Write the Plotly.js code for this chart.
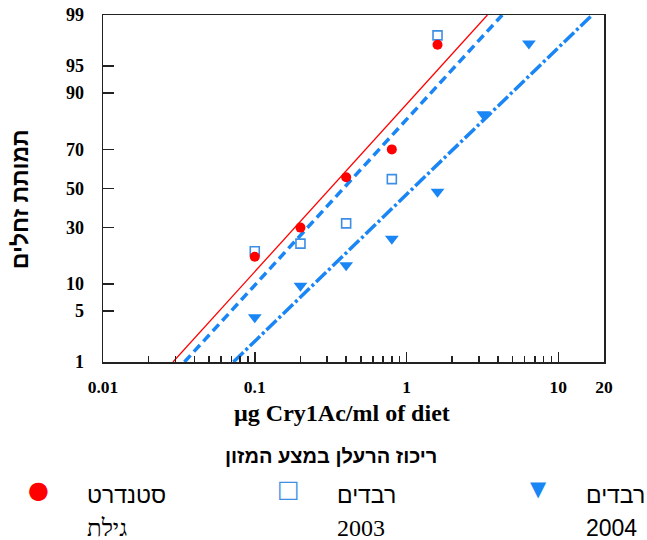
<!DOCTYPE html>
<html>
<head>
<meta charset="utf-8">
<script src="https://cdn.plot.ly/plotly-3.0.1.min.js"></script>
<style>html,body{margin:0;padding:0;background:#fff;}#chart{width:647px;height:540px;}</style>
</head>
<body>
<div id="chart"></div>
<script>
// ---- data (concentration µg/ml, mortality %) ----
const conc = [0.1, 0.2, 0.4, 0.8, 1.6];
const concB = [0.1, 0.2, 0.4, 0.8, 1.6, 3.2, 6.4];
const mortGilat = [18, 30, 56, 70, 97.3];
const mort2003 = [20, 23, 32, 55, 98];
const mort2004 = [4.2, 9.6, 15.2, 25, 48.3, 84, 97.4];
// fitted probit lines: end points (concentration, mortality %)
const fitGilatX = [0.0289, 3.41];
const fit2003X = [0.0344, 4.27];
const fit2004X = [0.0723, 16.7];
const fitY = [1, 99];
// axis tick labels
const yTickPct = [1, 5, 10, 30, 50, 70, 90, 95, 99];
const xTickVals = [0.01, 0.1, 1, 10, 20];
const xTickText = ['0.01', '0.1', '1', '10', '20'];
const xMinor = [0.02,0.03,0.04,0.05,0.06,0.07,0.08,0.09,0.2,0.3,0.4,0.5,0.6,0.7,0.8,0.9,2,3,4,5,6,7,8,9];
const legendNames = [['סטנדרט','גילת'], ['רבדים','2003'], ['רבדים','2004']];

// probit scale transform (inverse normal CDF, Acklam)
function probit(pct){
  const p = pct/100;
  const a=[-39.69683028665376,220.9460984245205,-275.9285104469687,138.3577518672690,-30.66479806614716,2.506628277459239];
  const b=[-54.47609879822406,161.5858368580409,-155.6989798598866,66.80131188771972,-13.28068155288572];
  const c=[-0.007784894002430293,-0.3223964580411365,-2.400758277161838,-2.549732539343734,4.374664141464968,2.938163982698783];
  const d=[0.007784695709041462,0.3224671290700398,2.445134137142996,3.754408661907416];
  const pl=0.02425, ph=1-pl; let q,r;
  if(p<pl){q=Math.sqrt(-2*Math.log(p));return (((((c[0]*q+c[1])*q+c[2])*q+c[3])*q+c[4])*q+c[5])/((((d[0]*q+d[1])*q+d[2])*q+d[3])*q+1);}
  if(p<=ph){q=p-0.5;r=q*q;return (((((a[0]*r+a[1])*r+a[2])*r+a[3])*r+a[4])*r+a[5])*q/(((((b[0]*r+b[1])*r+b[2])*r+b[3])*r+b[4])*r+1);}
  q=Math.sqrt(-2*Math.log(1-p));return -(((((c[0]*q+c[1])*q+c[2])*q+c[3])*q+c[4])*q+c[5])/((((d[0]*q+d[1])*q+d[2])*q+d[3])*q+1);
}
const P = arr => arr.map(probit);

const red = '#ff0000', blue = '#1a86f5', sqBlue = '#3d8fe6';

const traces = [
  {x: fitGilatX, y: P(fitY), mode:'lines', line:{color:red, width:1.3}, showlegend:false, hoverinfo:'skip'},
  {x: fit2003X, y: P(fitY), mode:'lines', line:{color:blue, width:3.5, dash:'9px,5px'}, showlegend:false, hoverinfo:'skip'},
  {x: fit2004X, y: P(fitY), mode:'lines', line:{color:blue, width:3.5, dash:'14px,3px,3px,3px'}, showlegend:false, hoverinfo:'skip'},
  {x: conc, y: P(mort2003), mode:'markers', marker:{symbol:'square', size:9, color:'#fff', line:{color:sqBlue, width:1.6}}, showlegend:false},
  {x: conc, y: P(mortGilat), mode:'markers', marker:{symbol:'circle', size:10, color:red}, showlegend:false},
  {x: concB, y: P(mort2004), mode:'markers', marker:{symbol:'triangle-down', size:12, color:blue}, showlegend:false}
];

// pixel helpers for annotation placement in paper coords
const L=102.5, R=604.5, T=15, B=362;
const px = v => (v-L)/(R-L);
const py = v => (B-v)/(B-T);

const ann = [];
ann.push({xref:'paper', yref:'paper', x:px(19.5), y:py(199), text:'<b>תמותת זחלים</b>', textangle:-90, showarrow:false,
  font:{family:'Liberation Sans, Arial', size:23, color:'#000'}, xanchor:'center', yanchor:'middle'});
ann.push({xref:'paper', yref:'paper', x:px(342), y:py(413), text:'<b>µg Cry1Ac/ml of diet</b>', showarrow:false,
  font:{family:'Liberation Serif, Times New Roman', size:24, color:'#000'}, xanchor:'center', yanchor:'middle'});
ann.push({xref:'paper', yref:'paper', x:px(331), y:py(456), text:'<b>ריכוז הרעלן במצע המזון</b>', showarrow:false,
  font:{family:'Liberation Sans, Arial', size:20, color:'#000'}, xanchor:'center', yanchor:'middle'});
// legend
const symX = [38, 288, 539], txtX = [84, 335, 584];
const syms = [{t:'●', c:red, s:24, y:490}, {t:'□', c:sqBlue, s:24, y:489}, {t:'▼', c:blue, s:21, y:489}];
const line2Font = ['Liberation Serif, Times New Roman', 'Liberation Serif, Times New Roman', 'Liberation Sans, Arial'];
for(let i=0;i<3;i++){
  ann.push({xref:'paper', yref:'paper', x:px(symX[i]), y:py(syms[i].y), text:syms[i].t, showarrow:false,
    font:{family:'DejaVu Sans', size:syms[i].s, color:syms[i].c}, xanchor:'center', yanchor:'middle'});
  ann.push({xref:'paper', yref:'paper', x:px(txtX[i]), y:py(495), text:legendNames[i][0], showarrow:false,
    font:{family:'Liberation Sans, Arial', size:23, color:'#000'}, xanchor:'left', yanchor:'middle'});
  ann.push({xref:'paper', yref:'paper', x:px(txtX[i]), y:py(528), text:legendNames[i][1], showarrow:false,
    font:{family:line2Font[i], size:i === 2 ? 23 : 24, color:'#000'}, xanchor:'left', yanchor:'middle'});
}

const layout = {
  width:647, height:540,
  margin:{l:L, r:647-R, t:T, b:540-B, pad:0},
  paper_bgcolor:'#fff', plot_bgcolor:'#fff',
  showlegend:false,
  xaxis:{type:'log', range:[-2, Math.log10(20)], tickmode:'array', tickvals:xTickVals, ticktext:xTickText,
    ticks:'inside', ticklen:10, tickwidth:1.5, tickcolor:'#222',
    minor:{tickmode:'array', tickvals:xMinor, ticks:'inside', ticklen:6, tickwidth:1.5, tickcolor:'#222', showgrid:false},
    showline:true, linecolor:'#222', linewidth:1.5, mirror:true, showgrid:false, zeroline:false,
    tickfont:{family:'Liberation Serif, Times New Roman', size:17.5, color:'#000', weight:'bold'}, ticklabelstandoff:8},
  yaxis:{range:[probit(1), probit(99)], tickmode:'array', tickvals:P(yTickPct), ticktext:yTickPct.map(String),
    ticks:'inside', ticklen:11, tickwidth:1.5, tickcolor:'#222',
    showline:true, linecolor:'#222', linewidth:1.5, mirror:true, showgrid:false, zeroline:false,
    tickfont:{family:'Liberation Serif, Times New Roman', size:18, color:'#000', weight:'bold'}, ticklabelstandoff:14},
  annotations: ann
};

Plotly.newPlot('chart', traces, layout, {displayModeBar:false, staticPlot:true});
</script>
</body>
</html>
